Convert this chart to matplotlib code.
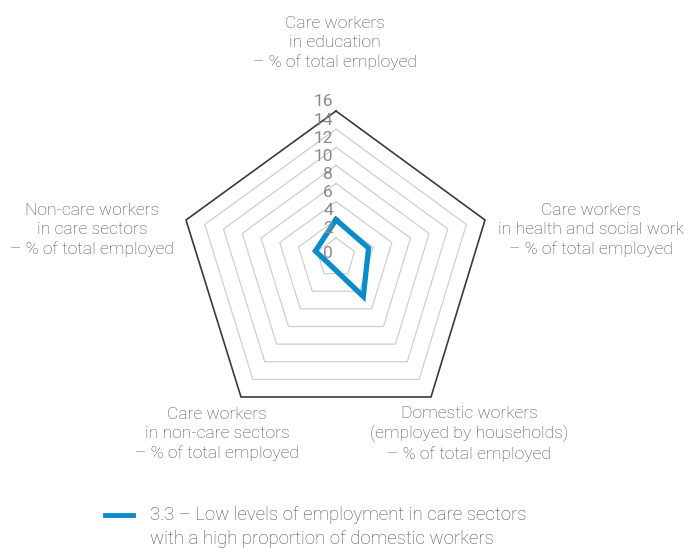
import numpy as np
import matplotlib.pyplot as plt

# axes, clockwise from the top
categories = [
    "Care workers\nin education\n– % of total employed",
    "Care workers\nin health and social work\n– % of total employed",
    "Domestic workers\n(employed by households)\n– % of total employed",
    "Care workers\nin non-care sectors\n– % of total employed",
    "Non-care workers\nin care sectors\n– % of total employed",
]
values = [4.0, 3.5, 4.6, 1.0, 2.2]
series_name = "3.3 – Low levels of employment in care sectors\nwith a high proportion of domestic workers"
ticks = [0, 2, 4, 6, 8, 10, 12, 14, 16]
vmax = 16

# spoke geometry in pixels (where value 16 ends up), centre of the web
cx, cy = 336, 256
spoke_end = np.array([(336, 111), (485, 220), (431, 397), (241, 397), (186, 220)], dtype=float)
unit = (spoke_end - [cx, cy]) / vmax

label_pos = [(335, 43), (591, 230), (469, 434), (217, 434), (92, 230)]

blue = "#0a8bca"
txt = "#4f4f4f"
plt.rcParams["font.family"] = ["Roboto", "DejaVu Sans"]

fig = plt.figure(figsize=(6.85, 5.48), dpi=100)
ax = fig.add_axes([0, 0, 1, 1])
ax.set_xlim(0, 685)
ax.set_ylim(548, 0)
ax.axis("off")


def web(vals):
    pts = np.array([cx, cy]) + unit * np.array(vals)[:, None]
    return np.vstack([pts, pts[:1]])


for t in ticks[1:]:
    ring = web([t] * len(categories))
    if t == vmax:
        ax.plot(ring[:, 0], ring[:, 1], color="#3a3a3a", lw=1.2, zorder=2)
    else:
        ax.plot(ring[:, 0], ring[:, 1], color="#cfcfcf", lw=0.9, zorder=1)

for t in ticks:
    y = cy + unit[0, 1] * t - 9
    if t == 0:
        y = 253
    ax.text(333, y, str(t), ha="right", va="center", fontsize=12.5,
            color="#8a8a8a", zorder=4)

d = web(values)
ax.plot(d[:, 0], d[:, 1], color=blue, lw=3.8, solid_joinstyle="miter", zorder=3)

for lab, (x, y) in zip(categories, label_pos):
    ax.text(x, y, lab, ha="center", va="center", fontsize=12.6, color=txt,
            fontweight="light", linespacing=1.35)

ax.plot([105, 133], [515, 515], color=blue, lw=3.5)
ax.text(150, 527, series_name, ha="left", va="center", fontsize=13.4,
        color=txt, fontweight="light", linespacing=1.45)

fig.savefig("out.png", dpi=100)
